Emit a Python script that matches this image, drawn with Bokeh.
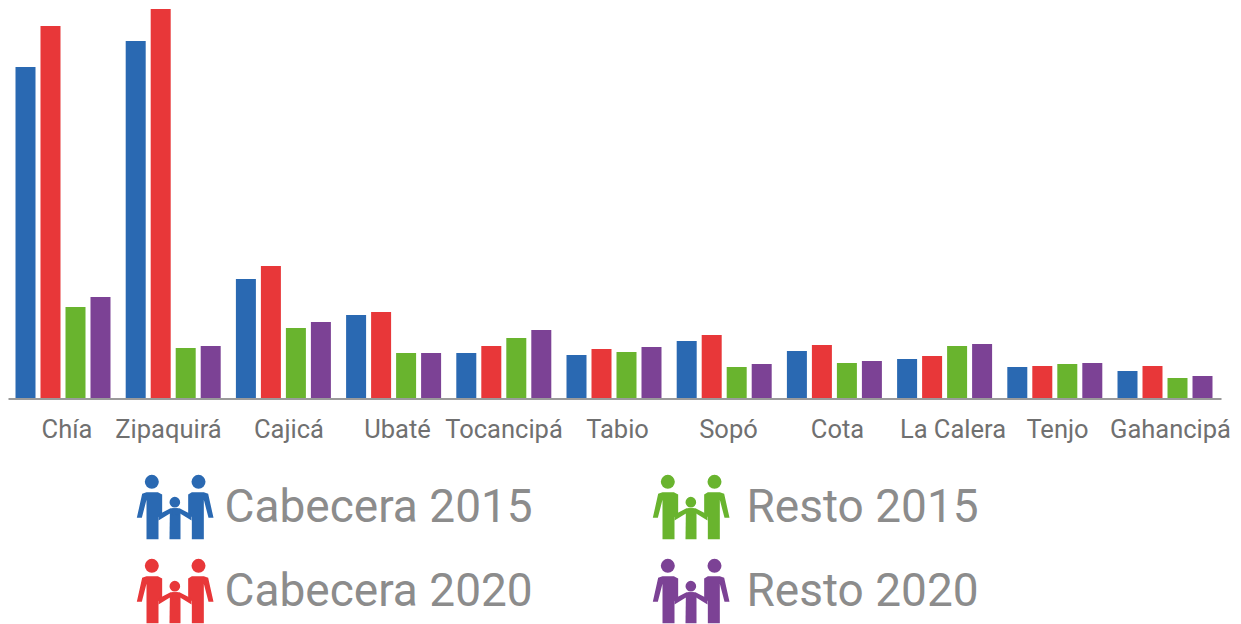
from bokeh.plotting import figure
from bokeh.layouts import column
from bokeh.models import Range1d, ColumnDataSource, Label, BoxAnnotation
from bokeh.embed import file_html
from bokeh.resources import INLINE

cities = ["Chía","Zipaquirá","Cajicá","Ubaté","Tocancipá","Tabio","Sopó","Cota","La Calera","Tenjo","Gahancipá"]
series = ["Cabecera 2015","Cabecera 2020","Resto 2015","Resto 2020"]
cabecera_2015 = [331,357,119,83,45,43,57,47,39,31,27]
cabecera_2020 = [372,389,132,86,52,49,63,53,42,32,32]
resto_2015 = [91,50,70,45,60,46,31,35,52,34,20]
resto_2020 = [101,52,76,45,68,51,34,37,54,35,22]
colors = ["#2a69b2","#e83739","#69b42e","#7c4295"]
label_shift = [4,-4.7,5.6,3.9,0.2,3.5,4.3,3.1,8.4,2.7,5.5]

W, H_top, H_leg = 1241, 460, 164
row_gap = 84
y0 = 397.5
BAR_STEP = 25          # pixels per bar slot
GROUP_STEP = 4.408     # bar slots per city
LEFT = 12.5            # pixels before the first slot

p = figure(width=W, height=H_top,
           x_range=Range1d(-LEFT / BAR_STEP, (W - LEFT) / BAR_STEP),
           y_range=Range1d(y0 - H_top, y0),
           toolbar_location=None, output_backend="svg", min_border=0, outline_line_color=None)
p.xaxis.visible = False
p.yaxis.visible = False
p.grid.visible = False

for j, (s, vals, col) in enumerate(zip(series, [cabecera_2015, cabecera_2020, resto_2015, resto_2020], colors)):
    src = ColumnDataSource(dict(x=[i * GROUP_STEP + j + 0.5 for i in range(len(cities))],
                                top=vals, city=cities))
    p.vbar(x="x", top="top", bottom=0, width=0.8, source=src, fill_color=col, line_color=None)

p.add_layout(BoxAnnotation(left=8, right=1221, left_units="screen", right_units="screen",
                           top=0, bottom=-2, fill_color="#9a9a9a", fill_alpha=1, line_color=None))

for i, (c, dx) in enumerate(zip(cities, label_shift)):
    p.add_layout(Label(x=2 + i * GROUP_STEP, y=0, text=c, x_offset=dx, y_offset=-31,
                       text_align="center", text_baseline="middle", text_font="Roboto",
                       text_font_size="25.5px", text_color="#707070"))

# legend panel: ranges are in reference pixels
q = figure(width=W, height=H_leg, x_range=Range1d(0, W), y_range=Range1d(460 + H_leg, 460),
           toolbar_location=None, output_backend="svg", min_border=0, outline_line_color=None)
q.xaxis.visible = False
q.yaxis.visible = False
q.grid.visible = False

def z(pts):
    return [120 + a / 3 for a, b in pts], [460 + b / 3 for a, b in pts]

adult_l = [(65,100),(78,95),(112,95),(125,102),(125,158),(114,170),(114,236),(78,236),(78,118),(64,172),(49,172)]
adult_r = [(263,100),(250,95),(214,95),(203,102),(203,158),(214,170),(214,236),(250,236),(250,118),(264,172),(279,172)]
child = [(148,160),(147,236),(180,236),(180,160),(164,150)]
arm_l = [(114,162),(150,143),(172,143),(172,165),(147,160),(114,180)]
arm_r = [(213,162),(177,143),(155,143),(155,165),(180,160),(213,180)]
shapes = [adult_l, adult_r, child, arm_l, arm_r]
heads = [(94,64,21),(234,64,21),(163,125,16)]

entries = [(0,0,colors[0],series[0],224),(0,row_gap,colors[1],series[1],224),
           (516,0,colors[2],series[2],746),(516,row_gap,colors[3],series[3],746)]
for dx, dy, col, name, tx in entries:
    xs, ys = [], []
    for s in shapes:
        a, b = z(s)
        xs.append([v + dx for v in a]); ys.append([v + dy for v in b])
    q.patches(xs, ys, fill_color=col, line_color=None)
    for hx, hy, r in heads:
        q.ellipse(x=120 + hx/3 + dx, y=460 + hy/3 + dy, width=2*r/3, height=2*r/3,
                  fill_color=col, line_color=None)
    q.add_layout(Label(x=tx, y=505 + dy, text=name, text_font="Roboto", text_font_size="46px",
                       text_color="#8c8c8c", text_baseline="alphabetic", text_align="left"))

layout = column(p, q, spacing=0)
open("out.html", "w").write(file_html(layout, INLINE))
